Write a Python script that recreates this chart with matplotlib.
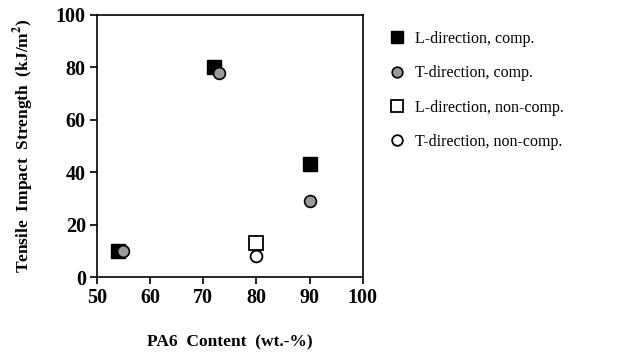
import matplotlib
matplotlib.use("Agg")
import matplotlib.pyplot as plt

# data
l_comp_x = [54, 72, 90]
l_comp_y = [10, 80, 43]
t_comp_x = [55, 73, 90]
t_comp_y = [10, 78, 29]
l_noncomp_x = [80]
l_noncomp_y = [13]
t_noncomp_x = [80]
t_noncomp_y = [8]

x_ticks = [50, 60, 70, 80, 90, 100]
y_ticks = [0, 20, 40, 60, 80, 100]

plt.rcParams['font.family'] = ['Liberation Serif', 'DejaVu Serif']
plt.rcParams['mathtext.fontset'] = 'stix'

fig = plt.figure(figsize=(6.17, 3.54), dpi=100, facecolor='white')
ax = fig.add_axes([0.157, 0.2175, 0.431, 0.7405])

ax.plot(l_comp_x, l_comp_y, 's', color='black', markersize=9.5,
        label='L-direction, comp.')
ax.plot(t_comp_x, t_comp_y, 'o', markerfacecolor='#9a9a9a', markeredgecolor='black',
        markeredgewidth=1.2, markersize=8.5, label='T-direction, comp.')
ax.plot(l_noncomp_x, l_noncomp_y, 's', markerfacecolor='white', markeredgecolor='black',
        markeredgewidth=1.3, markersize=9.5, label='L-direction, non-comp.')
ax.plot(t_noncomp_x, t_noncomp_y, 'o', markerfacecolor='white', markeredgecolor='black',
        markeredgewidth=1.3, markersize=8.5, label='T-direction, non-comp.')

ax.set_xlim(50, 100)
ax.set_ylim(0, 100)
ax.set_xticks(x_ticks)
ax.set_yticks(y_ticks)
ax.tick_params(direction='out', length=5, width=1.2, labelsize=14.5, pad=3)
for lbl in ax.get_xticklabels() + ax.get_yticklabels():
    lbl.set_fontweight('bold')
for sp in ax.spines.values():
    sp.set_linewidth(1.2)

ax.set_xlabel('PA6  Content  (wt.-%)', fontsize=12.5, fontweight='bold')
ax.xaxis.label.set_va('center')
ax.xaxis.set_label_coords(0.5, -0.248)
ax.set_ylabel('Tensile  Impact  Strength  (kJ/m$^{\\mathbf{2}}$)', fontsize=12.5,
              fontweight='bold', labelpad=14)

leg = ax.legend(loc='upper left', bbox_to_anchor=(1.04, 1.0), frameon=False,
                fontsize=11.5, labelspacing=1.15, handletextpad=0.6, markerscale=0.9,
                handlelength=1.0, borderaxespad=0.6)

fig.savefig('out.png', dpi=100, facecolor='white')
